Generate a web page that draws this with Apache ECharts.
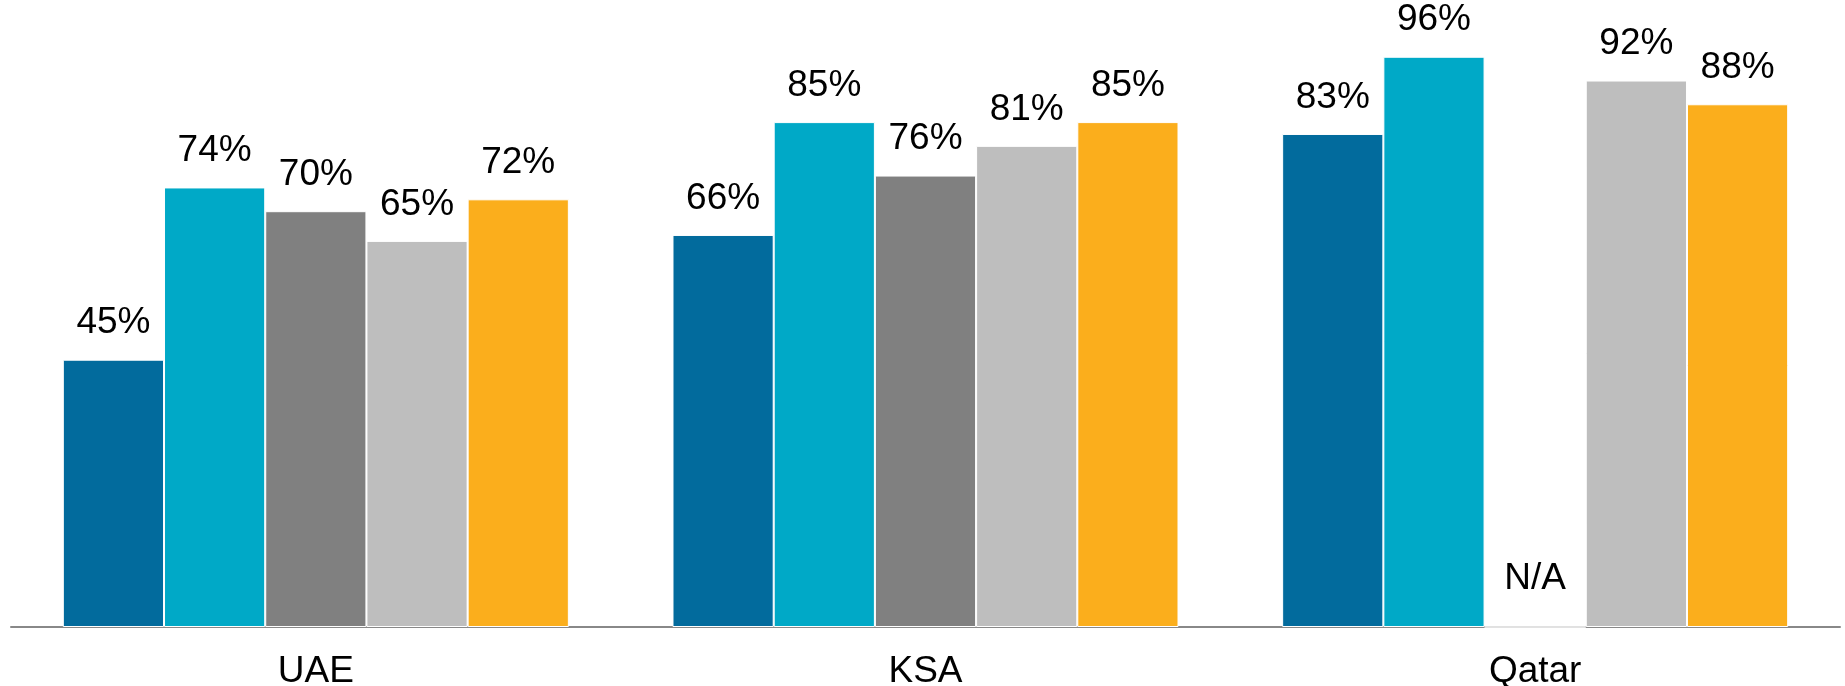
<!DOCTYPE html>
<html>
<head>
<meta charset="utf-8">
<script src="https://cdn.jsdelivr.net/npm/echarts@6/dist/echarts.min.js"></script>
<style>
  html, body { margin: 0; padding: 0; background: #fff; }
  #chart { width: 1845px; height: 686px; }
</style>
</head>
<body>
<div id="chart"></div>
<script>
// Categories along the x axis
const categories = ['UAE', 'KSA', 'Qatar'];

// Five series, percentages per country (null = not available)
const series1 = [45, 66, 83];
const series2 = [74, 85, 96];
const series3 = [70, 76, null];
const series4 = [65, 81, 92];
const series5 = [72, 85, 88];

const seriesNames = ['Series 1', 'Series 2', 'Series 3', 'Series 4', 'Series 5'];
const seriesColors = ['#026B9D', '#00A9C7', '#808080', '#BEBEBE', '#FBAE1C'];
const allSeries = [series1, series2, series3, series4, series5];

const FONT = '"Liberation Sans", Arial, sans-serif';

function toData(values) {
  return values.map(v => v == null
    ? { value: 0, label: { formatter: 'N/A', distance: 29 } }
    : v);
}

const chart = echarts.init(document.getElementById('chart'), null, { renderer: 'canvas' });

chart.setOption({
  animation: false,
  grid: { left: 11, right: 5, top: 33, bottom: 59, containLabel: false, outerBoundsMode: 'none' },
  xAxis: {
    type: 'category',
    data: categories,
    axisLine: { show: true, lineStyle: { color: '#888888', width: 2 } },
    axisTick: { show: false },
    axisLabel: { color: '#000', fontSize: 37, fontFamily: FONT, margin: 26 },
    splitLine: { show: false }
  },
  yAxis: {
    type: 'value',
    min: 0,
    max: 100,
    show: false,
    splitLine: { show: false }
  },
  series: allSeries.map((vals, i) => ({
    name: seriesNames[i],
    type: 'bar',
    data: toData(vals),
    barGap: '0%',
    barCategoryGap: '17%',
    itemStyle: { color: seriesColors[i], borderColor: '#fff', borderWidth: 1 },
    label: {
      show: true,
      position: 'top',
      distance: 18,
      color: '#000',
      fontSize: 37,
      fontFamily: FONT,
      formatter: p => p.value + '%'
    }
  }))
});
</script>
</body>
</html>
